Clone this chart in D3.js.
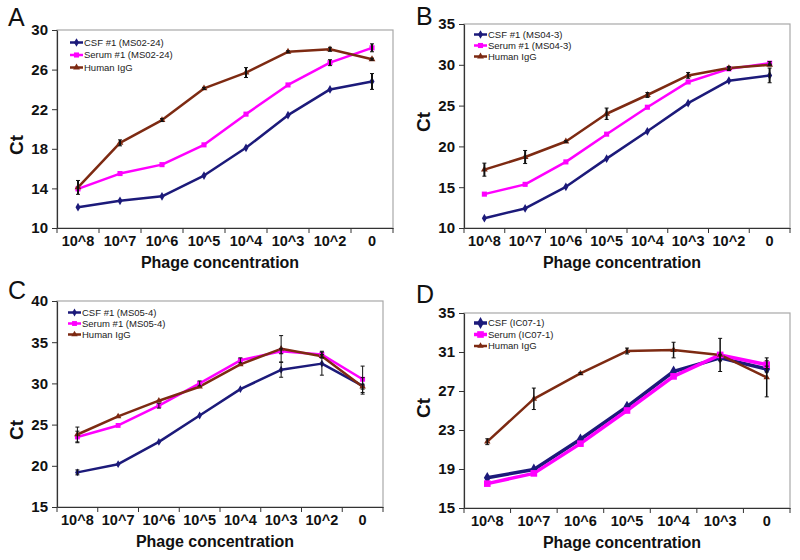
<!DOCTYPE html>
<html><head><meta charset="utf-8">
<script src="https://cdn.jsdelivr.net/npm/d3@7"></script>
<style>body{margin:0;background:#fff}svg{font-family:"Liberation Sans",Arial,sans-serif}</style>
</head><body><svg id="c" width="800" height="560"></svg>
<script>
// ---- data ----
const catsABC = ["10^8","10^7","10^6","10^5","10^4","10^3","10^2","0"];
const catsD = ["10^8","10^7","10^6","10^5","10^4","10^3","0"];

const labelsA = ["CSF #1 (MS02-24)","Serum #1 (MS02-24)","Human IgG"];
const labelsB = ["CSF #1 (MS04-3)","Serum #1 (MS04-3)","Human IgG"];
const labelsC = ["CSF #1 (MS05-4)","Serum #1 (MS05-4)","Human IgG"];
const labelsD = ["CSF (IC07-1)","Serum (IC07-1)","Human IgG"];

const ticksA = [10,14,18,22,26,30];
const ticksB = [10,15,20,25,30,35];
const ticksC = [15,20,25,30,35,40];
const ticksD = [15,19,23,27,31,35];

const aCSF   = [12.1,12.75,13.2,15.3,18.1,21.4,24.0,24.8];
const aSerum = [13.95,15.5,16.4,18.4,21.5,24.45,26.7,28.2];
const aIgG   = [14.1,18.6,20.9,24.1,25.7,27.8,28.05,27.05];
const aErrCSF   = [0,0,0,0,0,0,0,0.8];
const aErrSerum = [0,0,0,0,0,0,0.3,0.4];
const aErrIgG   = [0.7,0.3,0.15,0.1,0.5,0.1,0.2,0.1];

const bCSF   = [11.2,12.4,15.05,18.5,21.85,25.3,28.05,28.7];
const bSerum = [14.15,15.35,18.1,21.5,24.8,27.9,29.5,30.2];
const bIgG   = [17.15,18.7,20.6,24.0,26.3,28.7,29.6,30.0];
const bErrCSF   = [0,0,0,0,0,0,0,0.9];
const bErrSerum = [0,0,0,0,0,0,0.2,0.2];
const bErrIgG   = [0.8,0.8,0.1,0.7,0.3,0.35,0.2,0.1];

const cCSF   = [19.2,20.2,22.9,26.1,29.3,31.65,32.4,29.7];
const cSerum = [23.5,24.9,27.3,30.0,32.8,33.9,33.5,30.5];
const cIgG   = [23.8,26.0,27.9,29.6,32.3,34.2,33.3,29.6];
const cErrCSF   = [0.3,0,0,0,0,0.9,1.4,1.0];
const cErrSerum = [0.7,0,0.3,0.3,0.3,0.3,0.4,1.6];
const cErrIgG   = [0.9,0,0,0,0,1.6,0.2,0.3];

const dCSF   = [18.1,18.95,22.05,25.4,29.0,30.4,29.25];
const dSerum = [17.5,18.55,21.6,25.0,28.5,30.7,29.7];
const dIgG   = [21.8,26.2,28.8,31.1,31.2,30.7,28.4];
const dErrCSF   = [0,0,0,0,0,0.3,0.3];
const dErrSerum = [0,0,0,0,0,0,0.4];
const dErrIgG   = [0.3,1.1,0.1,0.3,0.8,1.7,2.0];

const colors = ["#1c1a7a","#ff00ff","#7d2a12"];
const symbols = [d3.symbolDiamond, d3.symbolSquare, d3.symbolTriangle];

// ---- layout ----
const panels = [
 {letter:"A", lx:8, ly:26, cats:catsABC, labels:labelsA, ticks:ticksA, series:[aCSF,aSerum,aIgG], errs:[aErrCSF,aErrSerum,aErrIgG],
  x0:57,x1:393,y0:30,y1:228, legX:70, legY:42.5, legDy:12.5, lw:[2.5,2.5,2.5], ms:[22,26,20], ew:2, ctY:145, ctX:16},
 {letter:"B", lx:416, ly:25, cats:catsABC, labels:labelsB, ticks:ticksB, series:[bCSF,bSerum,bIgG], errs:[bErrCSF,bErrSerum,bErrIgG],
  x0:464,x1:790,y0:24,y1:228, legX:474, legY:34.5, legDy:11, lw:[2.5,2.5,2.5], ms:[22,26,20], ew:2, ctY:122, ctX:423},
 {letter:"C", lx:8, ly:299, cats:catsABC, labels:labelsC, ticks:ticksC, series:[cCSF,cSerum,cIgG], errs:[cErrCSF,cErrSerum,cErrIgG],
  x0:57,x1:383,y0:301,y1:507, legX:68, legY:312.5, legDy:11, lw:[2.5,2.5,2.5], ms:[18,24,18], ew:1, ctY:430, ctX:16},
 {letter:"D", lx:416, ly:303, cats:catsD, labels:labelsD, ticks:ticksD, series:[dCSF,dSerum,dIgG], errs:[dErrCSF,dErrSerum,dErrIgG],
  x0:464,x1:790,y0:313,y1:508, legX:474, legY:323, legDy:11.5, lw:[3.5,3.5,2.5], ms:[40,44,18], ew:1.5, ctY:408, ctX:423}
];

const svg = d3.select("#c");
const FF = "'Liberation Sans',Arial,sans-serif";

panels.forEach(p => {
  const g = svg.append("g");
  const x = d3.scaleBand().domain(p.cats).range([p.x0,p.x1]);
  const y = d3.scaleLinear().domain([p.ticks[0], p.ticks[p.ticks.length-1]]).range([p.y1,p.y0]);

  // frame
  g.append("rect").attr("x",p.x0).attr("y",p.y0).attr("width",p.x1-p.x0).attr("height",p.y1-p.y0)
   .attr("fill","none").attr("stroke","#a8a8a8").attr("stroke-width",1.2);

  // y axis
  const ya = g.append("g").attr("transform",`translate(${p.x0},0)`)
    .call(d3.axisLeft(y).tickValues(p.ticks).tickSize(5).tickSizeOuter(0).tickPadding(4));
  ya.select(".domain").attr("stroke","#333").attr("stroke-width",1.2);
  ya.selectAll(".tick line").attr("stroke","#333");
  ya.selectAll("text").attr("font-size",15).attr("font-weight","bold").attr("fill","#111").attr("font-family",FF);

  // x axis
  const xa = g.append("g").attr("transform",`translate(0,${p.y1})`)
    .call(d3.axisBottom(x).tickSize(0).tickPadding(8));
  xa.select(".domain").attr("stroke","#333").attr("stroke-width",1.2);
  xa.selectAll("text").attr("font-size",14.5).attr("font-weight","bold").attr("fill","#111").attr("font-family",FF);
  // boundary ticks
  const bounds = p.cats.map(c => x(c)).concat([p.x1]);
  g.selectAll(".bt").data(bounds).enter().append("line")
   .attr("x1",d=>d).attr("x2",d=>d).attr("y1",p.y1).attr("y2",p.y1+5)
   .attr("stroke","#333").attr("stroke-width",1);

  // axis titles
  g.append("text").attr("x",(p.x0+p.x1)/2 - 5).attr("y",p.y1+40).attr("text-anchor","middle")
   .attr("font-size",16).attr("font-weight","bold").attr("fill","#111").text("Phage concentration");
  g.append("text").attr("transform",`translate(${p.ctX+7},${p.ctY}) rotate(-90)`).attr("text-anchor","middle")
   .attr("font-size",19).attr("font-weight","bold").attr("fill","#111").text("Ct");
  g.append("text").attr("x",p.lx).attr("y",p.ly).attr("font-size",25).attr("fill","#111").text(p.letter);

  const cx = c => x(c) + x.bandwidth()/2;

  // lines
  const line = d3.line().x((d,i)=>cx(p.cats[i])).y(d=>y(d));
  p.series.forEach((s,k) => {
    g.append("path").datum(s).attr("d",line).attr("fill","none")
     .attr("stroke",colors[k]).attr("stroke-width",p.lw[k]).attr("stroke-linejoin","round");
  });
  // markers
  p.series.forEach((s,k) => {
    g.selectAll(null).data(s).enter().append("path")
     .attr("transform",(d,i)=>`translate(${cx(p.cats[i])},${y(d)})`)
     .attr("d",d3.symbol().type(symbols[k]).size(p.ms[k])).attr("fill",colors[k]);
  });
  // error bars
  p.series.forEach((s,k) => {
    s.forEach((v,i) => {
      const e = p.errs[k][i];
      if (!e) return;
      const xx = cx(p.cats[i]);
      g.append("line").attr("x1",xx).attr("x2",xx).attr("y1",y(v-e)).attr("y2",y(v+e))
       .attr("stroke","#111").attr("stroke-width",p.ew);
      [v-e,v+e].forEach(t => g.append("line").attr("x1",xx-2).attr("x2",xx+2).attr("y1",y(t)).attr("y2",y(t))
        .attr("stroke","#111").attr("stroke-width",1));
    });
  });

  // legend
  p.labels.forEach((lab,k) => {
    const ly = p.legY + k*p.legDy;
    g.append("line").attr("x1",p.legX).attr("x2",p.legX+13).attr("y1",ly).attr("y2",ly)
     .attr("stroke",colors[k]).attr("stroke-width",p.lw[k]);
    g.append("path").attr("transform",`translate(${p.legX+6.5},${ly})`)
     .attr("d",d3.symbol().type(symbols[k]).size(p.ms[k])).attr("fill",colors[k]);
    g.append("text").attr("x",p.legX+14).attr("y",ly+3.2).attr("font-size",9.5).attr("fill","#222").text(lab);
  });
});
</script></body></html>
